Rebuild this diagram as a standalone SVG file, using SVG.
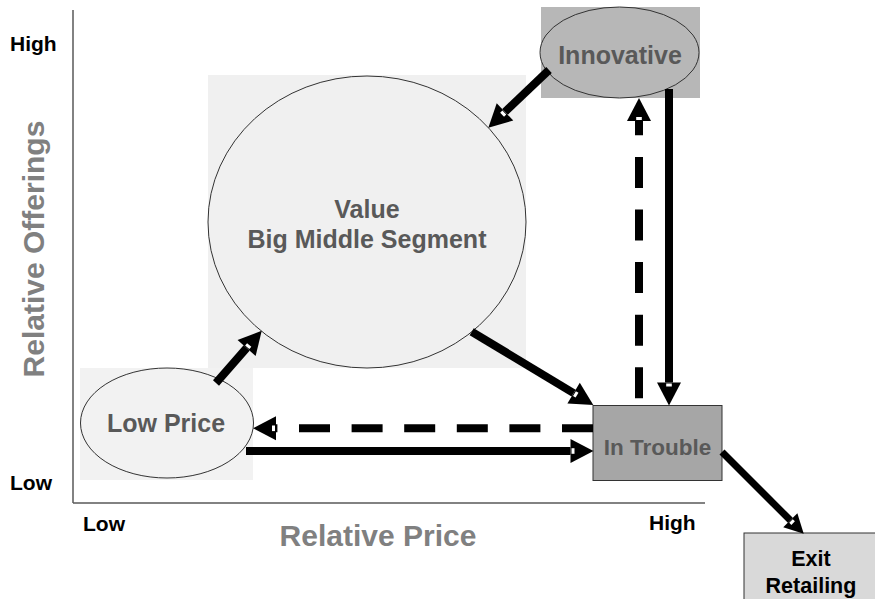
<svg xmlns="http://www.w3.org/2000/svg" width="875" height="599" viewBox="0 0 875 599">
<style>
text{font-family:"Liberation Sans",Arial,sans-serif;font-weight:bold}
.ax{fill:#000;font-size:21px}
.axt{fill:#808080;font-size:30px}
.nt{fill:#595959;font-size:25px;text-anchor:middle}
.ol{stroke:#333;stroke-width:1}
.c{stroke:#000;stroke-width:8;fill:none}
.d{stroke-dasharray:31 21.6}
</style>
<defs>
<marker id="ah" markerUnits="userSpaceOnUse" markerWidth="24" markerHeight="24" refX="0" refY="12" orient="auto" overflow="visible">
<path d="M0,0 L23,12 L0,24 Z" fill="#000"/>
<rect x="1" y="9.2" width="3" height="5.6" fill="#fff"/>
</marker>
<marker id="ahs" markerUnits="userSpaceOnUse" markerWidth="20" markerHeight="20" refX="0" refY="10" orient="auto" overflow="visible">
<path d="M0,0 L19,10 L0,20 Z" fill="#000"/>
<rect x="1" y="7.5" width="3" height="5" fill="#fff"/>
</marker>
</defs>
<rect width="875" height="599" fill="#fff"/>
<g id="axes">
<line x1="73" y1="10" x2="73" y2="503" stroke="#595959" stroke-width="1.5"/>
<line x1="73" y1="503" x2="705" y2="503" stroke="#595959" stroke-width="1.5"/>
<text class="ax" x="10" y="51">High</text>
<text class="ax" x="10" y="490">Low</text>
<text class="ax" x="83" y="531">Low</text>
<text class="ax" x="649" y="530">High</text>
<text class="axt" x="378" y="546" text-anchor="middle">Relative Price</text>
<text class="axt" transform="translate(44,249) rotate(-90)" text-anchor="middle">Relative Offerings</text>
</g>
<g id="value">
<rect x="208" y="75" width="318" height="293" fill="#f0f0f0"/>
<ellipse class="ol" cx="367" cy="222" rx="159" ry="146" fill="#f0f0f0"/>
<text class="nt" x="367" y="218">Value</text>
<text class="nt" x="367" y="248">Big Middle Segment</text>
</g>
<g id="lowprice">
<rect x="80" y="368" width="173" height="112" fill="#f2f2f2"/>
<ellipse class="ol" cx="167" cy="423" rx="86.5" ry="55" fill="#f2f2f2"/>
<text class="nt" x="166" y="432">Low Price</text>
</g>
<g id="innovative">
<rect x="541" y="7" width="159" height="91" fill="#b7b7b7"/>
<ellipse class="ol" cx="619.5" cy="52.5" rx="79.5" ry="45.5" fill="#b7b7b7"/>
<text class="nt" x="620" y="64">Innovative</text>
</g>
<g id="introuble">
<rect class="ol" x="593" y="405.5" width="129" height="75" fill="#a6a6a6"/>
<text class="nt" x="657.5" y="455" style="font-size:22.5px">In Trouble</text>
</g>
<g id="exit">
<rect class="ol" x="744" y="533" width="140" height="80" fill="#d9d9d9"/>
<text x="811" y="566" text-anchor="middle" style="font-size:21.5px;fill:#000">Exit</text>
<text x="811" y="593" text-anchor="middle" style="font-size:21.5px;fill:#000">Retailing</text>
</g>
<g id="connectors">
<line class="c" x1="549" y1="70" x2="505" y2="111.9" marker-end="url(#ah)"/>
<line class="c" x1="216" y1="383" x2="246.6" y2="348" marker-end="url(#ah)"/>
<line class="c" x1="471.7" y1="331.7" x2="573.6" y2="393.1" marker-end="url(#ah)"/>
<line class="c" x1="669" y1="89" x2="669" y2="382.5" marker-end="url(#ah)"/>
<line class="c d" x1="639" y1="398.3" x2="639" y2="121" marker-end="url(#ah)"/>
<line class="c d" x1="593" y1="428.3" x2="276" y2="428.3" marker-end="url(#ah)"/>
<line class="c" x1="246" y1="451" x2="570.5" y2="451" marker-end="url(#ah)"/>
<line class="c" x1="722" y1="452" x2="790.3" y2="520.3" style="stroke-width:7" marker-end="url(#ahs)"/>
</g>
</svg>
